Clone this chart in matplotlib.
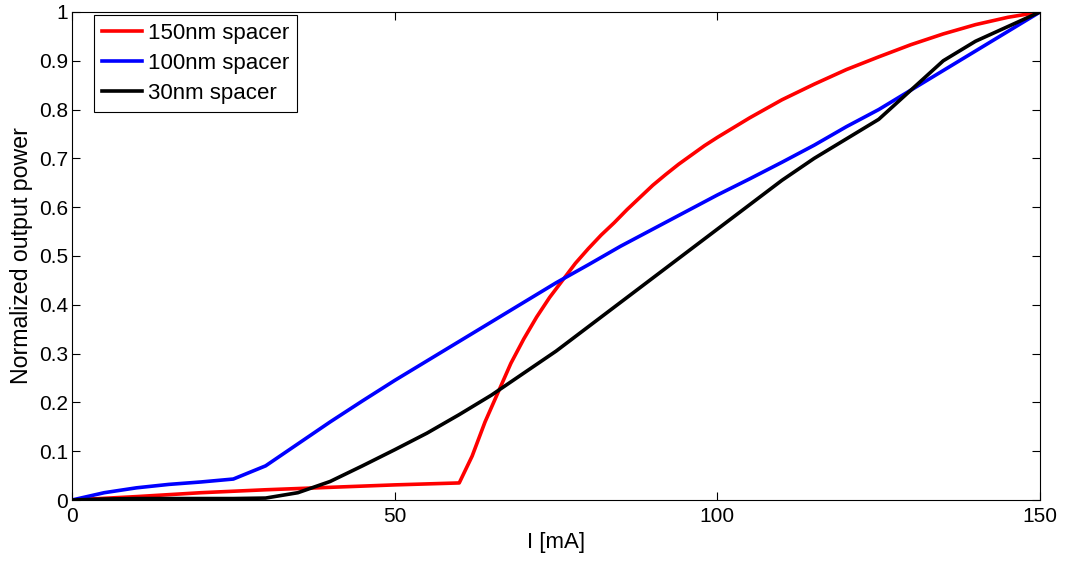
import matplotlib
matplotlib.use('Agg')
import matplotlib.pyplot as plt
import numpy as np

# current [mA] and normalized power
x_150 = [0, 10, 20, 30, 40, 50, 60, 62, 64, 66, 68, 70, 72, 74, 76, 78, 80, 82, 84, 86, 88,
         90, 92, 94, 96, 98, 100, 105, 110, 115, 120, 125, 130, 135, 140, 145, 150]
p_150 = [0, 0.007, 0.015, 0.021, 0.026, 0.031, 0.035, 0.09, 0.16, 0.22, 0.28, 0.33, 0.375,
         0.415, 0.45, 0.485, 0.515, 0.543, 0.568, 0.595, 0.62, 0.645, 0.667, 0.688, 0.707,
         0.726, 0.743, 0.783, 0.82, 0.852, 0.882, 0.908, 0.933, 0.955, 0.974, 0.989, 1.0]

x_100 = [0, 5, 10, 15, 20, 25, 30, 35, 40, 45, 50, 55, 60, 65, 70, 75, 80, 85, 90, 95, 100,
         105, 110, 115, 120, 125, 130, 135, 140, 145, 150]
p_100 = [0, 0.015, 0.025, 0.032, 0.037, 0.043, 0.07, 0.115, 0.16, 0.203, 0.245, 0.285, 0.325,
         0.365, 0.405, 0.445, 0.482, 0.52, 0.555, 0.59, 0.625, 0.658, 0.692, 0.727, 0.765,
         0.8, 0.84, 0.88, 0.92, 0.96, 1.0]

x_30 = [0, 5, 10, 15, 20, 25, 30, 35, 40, 45, 50, 55, 60, 65, 70, 75, 80, 85, 90, 95, 100,
        105, 110, 115, 120, 125, 130, 135, 140, 145, 150]
p_30 = [0, 0.002, 0.003, 0.003, 0.003, 0.003, 0.004, 0.015, 0.038, 0.07, 0.103, 0.137,
        0.175, 0.215, 0.26, 0.305, 0.355, 0.405, 0.455, 0.505, 0.555, 0.605, 0.655, 0.7,
        0.74, 0.78, 0.84, 0.9, 0.94, 0.97, 1.0]

plt.rcParams['font.family'] = ['Liberation Sans', 'DejaVu Sans']
fs = 15

fig = plt.figure(figsize=(10.65, 5.61), dpi=100)
ax = fig.add_axes([0.0676, 0.1087, 0.909, 0.87])

ax.plot(x_150, p_150, color='red', lw=2.6, label='150nm spacer')
ax.plot(x_100, p_100, color='blue', lw=2.6, label='100nm spacer')
ax.plot(x_30, p_30, color='black', lw=2.6, label='30nm spacer')

ax.set_xlim(0, 150)
ax.set_ylim(0, 1)
ax.set_xticks([0, 50, 100, 150])
ax.set_yticks(np.arange(0, 1.01, 0.1))
ax.set_yticklabels(['0', '0.1', '0.2', '0.3', '0.4', '0.5', '0.6', '0.7', '0.8', '0.9', '1'])
ax.tick_params(direction='in', top=True, right=True, length=6, width=0.8,
               labelsize=fs, pad=3)
ax.tick_params(axis='x', pad=5)
for s in ax.spines.values():
    s.set_linewidth(0.8)

ax.set_xlabel('I [mA]', fontsize=fs + 1, labelpad=4)
ax.set_ylabel('Normalized output power', fontsize=fs + 1.7, labelpad=4)

leg = ax.legend(loc='upper left', fontsize=fs + 1, fancybox=False, framealpha=1,
                edgecolor='black', handlelength=1.8, handletextpad=0.25,
                labelspacing=0.4, borderpad=0.35, borderaxespad=0.0,
                bbox_to_anchor=(0.023, 0.993))
leg.get_frame().set_linewidth(0.8)

plt.savefig('out.png', dpi=100)
